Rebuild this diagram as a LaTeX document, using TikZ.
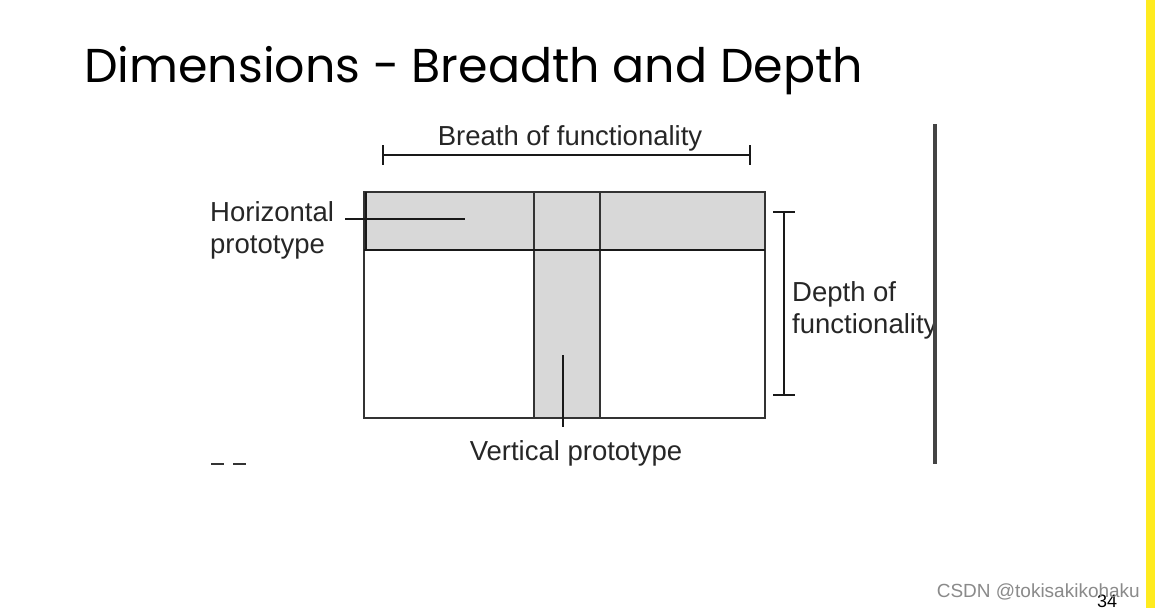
\documentclass[tikz,border=0pt]{standalone}
\usepackage{fontspec}
\setmainfont{Liberation Sans}
\newfontfamily\titlefont{Poppins}
\definecolor{bandgray}{HTML}{D8D8D8}
\definecolor{bargray}{HTML}{444444}
\definecolor{slideyellow}{HTML}{FFEB1F}
\definecolor{wmgray}{HTML}{8A8A8A}
\begin{document}
\begin{tikzpicture}[x=1pt,y=-1pt,
  lbl/.style={inner sep=0pt,font=\fontsize{27.5}{32}\selectfont,text=black!85},
  thin line/.style={draw=black!80,line width=1.8pt},
  thick line/.style={draw=black!90,line width=2.8pt}]
\useasboundingbox (0,0) rectangle (1155,608);
\fill[white] (0,0) rectangle (1155,608);
% title
\node[anchor=base west,inner sep=0pt,font=\titlefont\fontsize{47.5}{56}\selectfont] (title) at (84,82) {Dimensions - Breadth and Depth};
% bands
\fill[bandgray] (364,192) rectangle (765,250);
\fill[bandgray] (534,250) rectangle (600,418);
% main rectangle and dividers
\draw[thin line] (364,192) rectangle (765,418);
\draw[thin line] (534,192) -- (534,418);
\draw[thin line] (600,192) -- (600,418);
\draw[thick line] (364,250) -- (765,250);
\draw[thick line] (366,192) -- (366,250);
% breadth bar
\coordinate (bl) at (383,155);
\coordinate (br) at (750,155);
\draw[thick line] (bl) -- (br);
\draw[thick line] (383,145) -- (383,165);
\draw[thick line] (750,145) -- (750,165);
\node[lbl,anchor=base] (breadth) at (570,145) {Breath of functionality};
% depth bar
\coordinate (dt) at (784,212);
\coordinate (db) at (784,395);
\draw[thick line] (dt) -- (db);
\draw[thick line] (773,212) -- (795,212);
\draw[thick line] (773,395) -- (795,395);
\begin{scope}
\clip (780,250) rectangle (934,350);
\node[lbl,anchor=base west,align=left] (depth) at (792,333) {Depth of\\functionality};
\end{scope}
% horizontal prototype label + leader
\node[lbl,anchor=base west,align=left] (hlabel) at (210,253) {Horizontal\\prototype};
\coordinate (hl1) at (345,219);
\coordinate (hl2) at (465,219);
\draw[thick line] (hl1) -- (hl2);
% vertical prototype label + leader
\node[lbl,anchor=base] (vlabel) at (576,460) {Vertical prototype};
\coordinate (vl1) at (563,355);
\coordinate (vl2) at (563,427);
\draw[thick line] (vl1) -- (vl2);
% clipped letter tops
\draw[black!80,line width=2pt] (211,463.5) -- (224,463.5);
\draw[black!80,line width=2pt] (233,463.5) -- (246,463.5);
% dark vertical bar
\fill[bargray] (933,124) rectangle (937,464);
% yellow edge
\fill[slideyellow] (1146,0) rectangle (1155,608);
% page number
\node[anchor=base west,inner sep=0pt,font=\fontsize{18}{22}\selectfont] (pnum) at (1097,607.5) {34};
% watermark
\node[anchor=base east,inner sep=0pt,text=wmgray,font=\fontsize{19}{22}\selectfont] (wm) at (1140,597) {CSDN @tokisakikohaku};
\end{tikzpicture}
\end{document}
